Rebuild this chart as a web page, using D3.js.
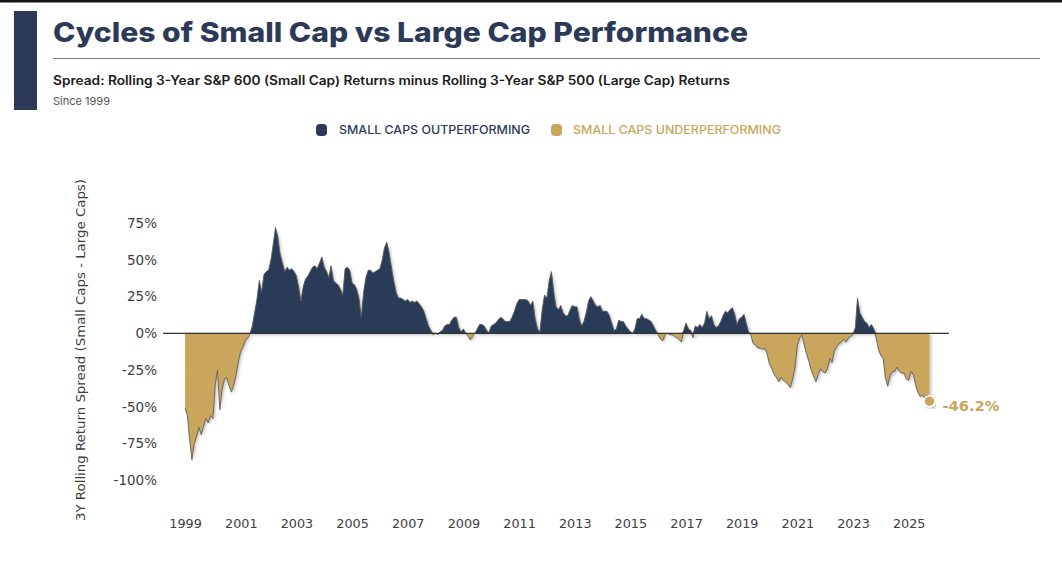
<!DOCTYPE html>
<html><head><meta charset="utf-8">
<script src="https://cdn.jsdelivr.net/npm/d3@7"></script>
<style>html,body{margin:0;padding:0;background:#fff;} svg{display:block;}</style>
</head><body>
<svg id="chart" width="1062" height="580"></svg>
<script>
// ---- DATA (monthly, starting Jan 1999) ----
const seriesStart = [1999, 0];
const spreadValues = [
  // 1999
  -51, -56, -72, -86, -75, -70, -64, -69, -63, -58, -61, -56,
  // 2000
  -58, -35, -25, -52, -38, -31, -30, -36, -40, -35, -28, -19,
  // 2001
  -12, -9, -5, -3, -0.5, 5, 14, 23, 36, 28, 40, 42,
  // 2002
  43, 50, 60, 72, 66, 54, 48, 42, 45, 43, 44, 42,
  // 2003
  39, 31, 22, 32, 37, 39, 42, 45, 46, 44, 48, 52,
  // 2004
  45, 42, 38, 46, 36, 34, 33, 30, 26, 44, 45, 43,
  // 2005
  34, 33, 30, 24, 11, 28, 38, 43, 43, 41, 42, 43,
  // 2006
  44, 50, 58, 62, 55, 45, 36, 28, 24, 24, 23, 22,
  // 2007
  23, 21, 22, 21, 22, 20, 18, 15, 10, 5, 2, -1,
  // 2008
  0, -1, 1, 2, 5, 6, 6, 9, 11, 11, 4, 1,
  // 2009
  3, 0, -2, -4.5, -2, 0, 3, 6, 6, 5, 2, 0.5,
  // 2010
  5, 6, 7, 9, 11, 10, 8, 8, 8, 11, 15, 20,
  // 2011
  23, 23, 23, 23, 22, 19, 22, 10, 3, 1, 16, 26,
  // 2012
  24, 36, 42, 28, 18, 16, 19, 14, 12, 12, 16, 19,
  // 2013
  18, 18, 10, 5, 8, 14, 22, 25, 22, 19, 18, 19,
  // 2014
  15, 15, 15, 12, 7, 2, 3, 9, 8, 8, 5, 3,
  // 2015
  1, 0, 3, 10, 10, 13, 10, 10, 9, 8, 5, 2,
  // 2016
  -1, -4, -5, -1, 0, -1, -1, -2, -3, -4, -6, 2,
  // 2017
  7, 3, 2, -3, 5, 4, 6, 4, 7, 15, 10, 12,
  // 2018
  6, 4, 5, 8, 12, 15, 14, 16, 17.5, 13, 6, 10,
  // 2019
  11, 13, 7, 1, -1, -7, -8, -10, -10, -11, -10, -14,
  // 2020
  -21, -24, -28, -30, -33, -30, -32, -33, -35, -37, -31, -23,
  // 2021
  -8, -3, -1, -8, -14, -19, -25, -29, -33, -28, -24, -26,
  // 2022
  -27, -24, -17, -20, -12, -9, -7, -6, -4, -6, -3, -2,
  // 2023
  -1, 4, 24, 14, 11, 8, 7, 4, 6, 3, -3, -11,
  // 2024
  -15, -17, -30, -36, -29, -26, -26, -23, -26, -27, -27, -31,
  // 2025
  -32, -26, -28, -35, -40, -43, -42, -44, -42, -46.2
];
const yTickValues = [75, 50, 25, 0, -25, -50, -75, -100];
const xTickYears = [1999, 2001, 2003, 2005, 2007, 2009, 2011, 2013, 2015, 2017, 2019, 2021, 2023, 2025];
const legendLabels = ["SMALL CAPS OUTPERFORMING", "SMALL CAPS UNDERPERFORMING"];
const titleText = "Cycles of Small Cap vs Large Cap Performance";
const subtitleText = "Spread: Rolling 3-Year S&P 600 (Small Cap) Returns minus Rolling 3-Year S&P 500 (Large Cap) Returns";
const noteText = "Since 1999";
const yAxisTitle = "3Y Rolling Return Spread (Small Caps - Large Caps)";

// ---- STYLE ----
const NAVY = "#2c3a58", GOLD = "#c9a65c", TXT = "#3d3d3d";

const svg = d3.select("#chart");
const data = spreadValues.map((v, i) => ({ date: new Date(seriesStart[0], seriesStart[1] + i, 1), v }));

const x = d3.scaleTime().domain([new Date(1998, 2, 17), new Date(2026, 5, 14)]).range([163, 949]);
const y = d3.scaleLinear().domain([-100, 75]).range([480.3, 223.1]);

const defs = svg.append("defs");
const f = defs.append("filter").attr("id", "sh").attr("x", "-5%").attr("y", "-10%").attr("width", "110%").attr("height", "125%");
f.append("feDropShadow").attr("dx", 1.5).attr("dy", 1.5).attr("stdDeviation", 1.6).attr("flood-color", "#000").attr("flood-opacity", 0.28);

// top strip & header
svg.append("rect").attr("x", 0).attr("y", 0).attr("width", 1062).attr("height", 2.5).attr("fill", "#151515");
svg.append("rect").attr("x", 14).attr("y", 11).attr("width", 23).attr("height", 99).attr("fill", NAVY);
svg.append("text").attr("x", 53).attr("y", 42).text(titleText)
  .attr("font-family", "Inter, 'Noto Sans', sans-serif").attr("font-weight", 800).attr("font-size", 27)
  .attr("fill", NAVY).attr("textLength", 695).attr("lengthAdjust", "spacingAndGlyphs");
svg.append("line").attr("x1", 53).attr("x2", 1040).attr("y1", 58.5).attr("y2", 58.5).attr("stroke", "#7d8396").attr("stroke-width", 1);
svg.append("text").attr("x", 53).attr("y", 85).text(subtitleText)
  .attr("font-family", "Inter, 'Noto Sans', sans-serif").attr("font-weight", 600).attr("font-size", 12.5)
  .attr("fill", "#1b1b1b").attr("textLength", 677).attr("lengthAdjust", "spacingAndGlyphs");
svg.append("text").attr("x", 53).attr("y", 105).text(noteText)
  .attr("font-family", "Inter, 'Noto Sans', sans-serif").attr("font-weight", 400).attr("font-size", 11)
  .attr("fill", "#555").attr("textLength", 57).attr("lengthAdjust", "spacingAndGlyphs");

// legend
const legendItems = [
  { label: legendLabels[0], color: NAVY, mx: 316, tx: 339, tw: 191 },
  { label: legendLabels[1], color: GOLD, mx: 551, tx: 573, tw: 208 }
];
legendItems.forEach(d => {
  svg.append("rect").attr("x", d.mx).attr("y", 124).attr("width", 11).attr("height", 12).attr("rx", 4).attr("fill", d.color);
  svg.append("text").attr("x", d.tx).attr("y", 134).text(d.label)
    .attr("font-family", "Inter, 'Noto Sans', sans-serif").attr("font-weight", 500).attr("font-size", 11.5)
    .attr("fill", d.color).attr("textLength", d.tw).attr("lengthAdjust", "spacingAndGlyphs");
});

// areas
const posArea = d3.area().x(d => x(d.date)).y0(y(0)).y1(d => y(Math.max(0, d.v)));
const negArea = d3.area().x(d => x(d.date)).y0(y(0)).y1(d => y(Math.min(0, d.v)));
const g = svg.append("g");
g.append("path").datum(data).attr("d", posArea).attr("fill", NAVY).attr("filter", "url(#sh)");
g.append("path").datum(data).attr("d", negArea).attr("fill", GOLD).attr("filter", "url(#sh)");
g.append("path").datum(data).attr("d", d3.line().x(d => x(d.date)).y(d => y(d.v)))
  .attr("fill", "none").attr("stroke", "#5c5c5c").attr("stroke-width", 0.9).attr("stroke-linejoin", "round");

// zero line across the plot
svg.append("line").attr("x1", x.range()[0]).attr("x2", x.range()[1]).attr("y1", y(0)).attr("y2", y(0))
  .attr("stroke", "#333").attr("stroke-width", 1.1);

// axes
const yAxis = svg.append("g").attr("transform", `translate(${x.range()[0]},0)`)
  .call(d3.axisLeft(y).tickValues(yTickValues).tickFormat(d => d + "%").tickSize(0).tickPadding(6));
yAxis.select(".domain").remove();
yAxis.selectAll("text").attr("font-family", "'DejaVu Sans', sans-serif").attr("font-size", 13.5).attr("fill", TXT);

const xAxis = svg.append("g").attr("transform", "translate(0,513)")
  .call(d3.axisBottom(x).tickValues(xTickYears.map(yr => new Date(yr, 0, 1))).tickFormat(d3.timeFormat("%Y")).tickSize(0).tickPadding(6));
xAxis.select(".domain").remove();
xAxis.selectAll("text").attr("font-family", "'DejaVu Sans', sans-serif").attr("font-size", 12.8).attr("fill", TXT);

// y title
svg.append("text").attr("transform", "translate(85,350) rotate(-90)").attr("text-anchor", "middle").text(yAxisTitle)
  .attr("font-family", "'DejaVu Sans', sans-serif").attr("font-size", 13).attr("fill", TXT)
  .attr("textLength", 342).attr("lengthAdjust", "spacingAndGlyphs");

// last-value marker
const last = data[data.length - 1];
svg.append("circle").attr("cx", x(last.date)).attr("cy", y(last.v)).attr("r", 5.5)
  .attr("fill", GOLD).attr("stroke", "#fff").attr("stroke-width", 1.5).attr("filter", "url(#sh)");
svg.append("text").attr("x", x(last.date) + 13).attr("y", y(last.v) + 10).text(last.v.toFixed(1) + "%")
  .attr("font-family", "'DejaVu Sans', sans-serif").attr("font-weight", 700).attr("font-size", 14.5)
  .attr("fill", GOLD).attr("textLength", 57).attr("lengthAdjust", "spacingAndGlyphs");
</script>
</body></html>
